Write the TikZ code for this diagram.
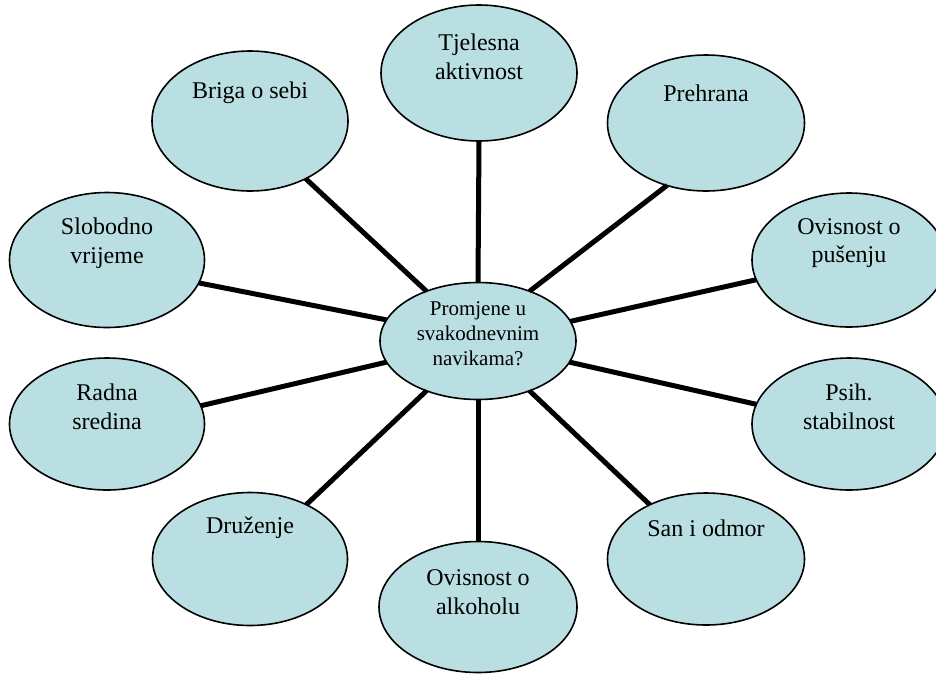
\documentclass[tikz,border=0pt]{standalone}
\usepackage{fontspec}
\setmainfont{Liberation Serif}
\usetikzlibrary{shapes.geometric}
\definecolor{bubblefill}{RGB}{185,223,227}
\tikzset{
  bubble/.style={ellipse,draw=black,line width=1.6pt,fill=bubblefill,inner sep=0pt,outer sep=0pt},
  txt/.style={align=center,font=\fontsize{24}{28.5}\selectfont,inner sep=0pt},
  hubtxt/.style={txt,font=\fontsize{21}{25}\selectfont},
  spoke/.style={line width=5pt}
}

\begin{document}
\begin{tikzpicture}[x=1pt,y=-1pt]
    \useasboundingbox (0,0) rectangle (936,675);
    % centre bubble
    \node[bubble,minimum width=196pt,minimum height=117pt] (c) at (478,341) {};
    % outer bubbles
    \node[bubble,minimum width=196pt,minimum height=136pt] (tj) at (479,73) {};
    \node[bubble,minimum width=197pt,minimum height=136pt] (pr) at (706,123) {};
    \node[bubble,minimum width=196pt,minimum height=140pt] (br) at (250,121) {};
    \node[bubble,minimum width=194pt,minimum height=134pt] (op) at (849,260) {};
    \node[bubble,minimum width=194pt,minimum height=132pt] (ps) at (849,424) {};
    \node[bubble,minimum width=195pt,minimum height=135pt] (sl) at (107,260) {};
    \node[bubble,minimum width=195pt,minimum height=132pt] (ra) at (107,424) {};
    \node[bubble,minimum width=195pt,minimum height=133pt] (dr) at (250,559) {};
    \node[bubble,minimum width=197pt,minimum height=132pt] (sa) at (706,559) {};
    \node[bubble,minimum width=198pt,minimum height=131pt] (al) at (478,607) {};
    % spokes
    \draw[spoke] (c.90) -- (tj.270);
    \draw[spoke] (c.44.5) -- (pr.238.7);
    \draw[spoke] (c.136) -- (br.314.5);
    \draw[spoke] (c.167) -- (sl.346.7);
    \draw[spoke] (c.193) -- (ra.11.5);
    \draw[spoke] (c.224.5) -- (dr.44.5);
    \draw[spoke] (c.270) -- (al.90);
    \draw[spoke] (c.316) -- (sa.136);
    \draw[spoke] (c.347.4) -- (ps.168.6);
    \draw[spoke] (c.12.6) -- (op.192);
    % labels
    \node[hubtxt] (ct) at ([yshift=7pt]c.center) {Promjene u\\svakodnevnim\\navikama?};
    \node[txt] (tjt) at ([yshift=16pt]tj.center) {Tjelesna\\aktivnost};
    \node[txt] (prt) at ([yshift=30pt]pr.center) {Prehrana};
    \node[txt] (brt) at ([yshift=28pt]br.center) {Briga o sebi};
    \node[txt] (opt) at ([yshift=17pt]op.center) {Ovisnost o\\pušenju};
    \node[txt] (pst) at ([yshift=17pt]ps.center) {Psih.\\stabilnost};
    \node[txt] (slt) at ([yshift=17pt]sl.center) {Slobodno\\vrijeme};
    \node[txt] (rat) at ([yshift=17pt]ra.center) {Radna\\sredina};
    \node[txt] (drt) at ([yshift=31pt]dr.center) {Druženje};
    \node[txt] (sat) at ([yshift=31pt]sa.center) {San i odmor};
    \node[txt] (alt) at ([yshift=15pt]al.center) {Ovisnost o\\alkoholu};
\end{tikzpicture}
\end{document}
